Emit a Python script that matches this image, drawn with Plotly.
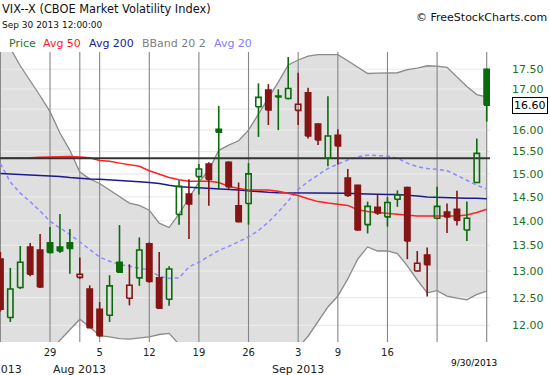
import math
import plotly.graph_objects as go

# ---------------- data ----------------
dates = ["2013-07-22", "2013-07-23", "2013-07-24", "2013-07-25", "2013-07-26",
         "2013-07-29", "2013-07-30", "2013-07-31", "2013-08-01", "2013-08-02",
         "2013-08-05", "2013-08-06", "2013-08-07", "2013-08-08", "2013-08-09",
         "2013-08-12", "2013-08-13", "2013-08-14", "2013-08-15", "2013-08-16",
         "2013-08-19", "2013-08-20", "2013-08-21", "2013-08-22", "2013-08-23",
         "2013-08-26", "2013-08-27", "2013-08-28", "2013-08-29", "2013-08-30",
         "2013-09-03", "2013-09-04", "2013-09-05", "2013-09-06",
         "2013-09-09", "2013-09-10", "2013-09-11", "2013-09-12", "2013-09-13",
         "2013-09-16", "2013-09-17", "2013-09-18", "2013-09-19", "2013-09-20",
         "2013-09-23", "2013-09-24", "2013-09-25", "2013-09-26", "2013-09-27",
         "2013-09-30"]

opens = [13.23, 12.14, 12.69, 13.47, 13.41, 13.55, 13.47, 13.55, 12.88, 12.66,
         12.29, 12.18, 13.17, 12.49, 12.87, 13.53, 12.87, 12.47, 14.13, 14.56,
         14.94, 15.22, 16.02, 15.26, 14.31, 14.36, 16.56, 16.97, 16.82, 16.76,
         16.47, 16.90, 16.14, 15.35, 15.88, 14.91, 14.75, 13.92, 14.28, 14.08,
         14.45, 14.70, 13.00, 13.31, 14.05, 14.18, 14.24, 13.81, 14.81, 17.50]
highs = [13.37, 13.06, 13.49, 13.55, 13.73, 13.87, 14.14, 13.83, 13.26, 12.73,
         12.42, 12.92, 13.91, 13.13, 13.66, 13.56, 13.37, 13.09, 14.86, 14.88,
         15.22, 15.26, 16.58, 15.28, 14.81, 15.24, 17.14, 17.12, 16.99, 17.82,
         17.41, 17.03, 16.16, 16.82, 16.02, 15.11, 14.76, 14.40, 14.56, 14.50,
         14.64, 14.72, 13.39, 13.46, 14.72, 14.36, 14.63, 14.40, 15.80, 17.52]
lows = [12.25, 12.06, 12.66, 12.90, 12.68, 13.34, 13.35, 12.95, 12.85, 11.95,
        11.80, 12.06, 12.97, 12.36, 12.72, 12.78, 12.30, 12.35, 13.92, 13.63,
        14.55, 14.31, 14.66, 14.66, 13.97, 13.92, 15.84, 16.12, 16.00, 16.74,
        16.12, 15.80, 15.65, 15.17, 15.21, 14.50, 13.80, 13.74, 14.12, 13.88,
        14.29, 13.23, 12.99, 12.52, 14.03, 13.75, 13.90, 13.59, 14.80, 16.20]
closes = [12.29, 12.66, 13.17, 12.94, 12.70, 13.36, 13.39, 13.44, 12.94, 11.96,
          11.82, 12.72, 12.98, 12.73, 13.41, 12.80, 12.31, 13.04, 14.73, 14.35,
          15.11, 14.88, 15.95, 14.72, 13.98, 15.00, 16.79, 16.48, 16.80, 17.01,
          16.62, 15.86, 15.77, 15.86, 15.63, 14.53, 13.81, 14.30, 14.16, 14.38,
          14.54, 13.59, 13.15, 13.12, 14.30, 14.08, 14.01, 14.05, 15.46, 16.60]
prev_close = 12.54  # close of the session before the first one shown

avg50 = [15.35, 15.35, 15.35, 15.36, 15.37, 15.38, 15.39, 15.39, 15.38, 15.36,
         15.30, 15.28, 15.24, 15.20, 15.17, 15.07, 15.00, 14.92, 14.87, 14.84,
         14.84, 14.84, 14.81, 14.73, 14.68, 14.65, 14.65, 14.65, 14.62, 14.57,
         14.53, 14.46, 14.40, 14.37, 14.35, 14.32, 14.23, 14.19, 14.17, 14.15,
         14.13, 14.11, 14.10, 14.10, 14.10, 14.10, 14.10, 14.12, 14.17, 14.24]
avg200 = [15.01, 15.00, 14.99, 14.98, 14.96, 14.95, 14.94, 14.92, 14.90, 14.89,
          14.88, 14.87, 14.86, 14.84, 14.83, 14.81, 14.79, 14.75, 14.72, 14.71,
          14.70, 14.69, 14.68, 14.67, 14.65, 14.63, 14.61, 14.60, 14.59, 14.59,
          14.59, 14.59, 14.59, 14.59, 14.59, 14.58, 14.57, 14.56, 14.56, 14.55,
          14.55, 14.54, 14.52, 14.50, 14.49, 14.48, 14.47, 14.47, 14.47, 14.46]
avg20 = [15.23, 14.82, 14.58, 14.40, 14.20, 13.99, 13.85, 13.72, 13.57, 13.41,
         13.27, 13.19, 13.13, 13.09, 13.05, 13.02, 12.90, 12.86, 12.87, 13.08,
         13.17, 13.28, 13.40, 13.48, 13.57, 13.67, 13.80, 13.97, 14.18, 14.41,
         14.66, 14.83, 14.98, 15.12, 15.22, 15.31, 15.38, 15.42, 15.41, 15.40,
         15.35, 15.24, 15.16, 15.12, 15.10, 15.07, 14.97, 14.86, 14.75, 14.67]
bb_upper = [18.35, 18.05, 17.59, 17.21, 16.83, 16.44, 15.93, 15.53, 15.04, 14.89,
            14.79, 14.65, 14.51, 14.37, 14.32, 14.22, 13.95, 13.86, 14.14, 14.48,
            14.82, 15.08, 15.53, 15.65, 15.75, 16.00, 16.37, 16.76, 17.17, 17.61,
            17.74, 17.84, 17.88, 17.88, 17.88, 17.72, 17.55, 17.39, 17.40, 17.40,
            17.41, 17.49, 17.53, 17.59, 17.58, 17.55, 17.31, 17.06, 16.86, 16.80]
bb_lower = [10.90, 11.05, 11.20, 11.36, 11.48, 11.55, 11.74, 11.93, 12.11, 11.97,
            11.82, 11.80, 11.77, 11.76, 11.78, 11.80, 11.84, 11.86, 11.67, 11.40,
            11.20, 11.00, 10.80, 10.70, 10.60, 10.60, 10.70, 10.90, 11.10, 11.35,
            11.61, 11.81, 12.06, 12.33, 12.53, 12.85, 13.23, 13.47, 13.39, 13.39,
            13.34, 13.10, 12.83, 12.59, 12.63, 12.53, 12.49, 12.46, 12.56, 12.62]
ref_level = 15.35

y_ticks = [12.0, 12.5, 13.0, 13.5, 14.0, 14.5, 15.0, 15.5, 16.0, 16.5, 17.0, 17.5]
week_starts = ["2013-07-22", "2013-07-29", "2013-08-05", "2013-08-12", "2013-08-19",
               "2013-08-26", "2013-09-03", "2013-09-09", "2013-09-16", "2013-09-23",
               "2013-09-30"]
week_labels = ["", "29", "5", "12", "19", "26", "3", "9", "16", "", ""]
month_starts = ["2013-08-01", "2013-09-03"]
month_labels = ["Aug 2013", "Sep 2013"]
first_month_label = "Jul 2013"

# ---------------- style ----------------
FONT = "DejaVu Sans"
GREEN = "#0b6a0b"
RED = "#851515"
LABEL_GREEN = "#1f6f1f"
BAND_FILL = "#dfdfdf"
BAND_LINE = "#8a8a8a"
PLOT_W, PLOT_T, PLOT_B = 490, 52, 342
HALF_BODY = 0.27  # half candle body width, in sessions

def px_x(p):
    return p / PLOT_W

def px_y(p):
    return (PLOT_B - p) / (PLOT_B - PLOT_T)

x = list(range(len(dates)))
pos = {d: i for i, d in enumerate(dates)}

y_lo, y_hi = 11.71, 17.95

fig = go.Figure()

# Bollinger band fill
fig.add_trace(go.Scatter(x=x, y=bb_lower, mode="lines", line=dict(width=0),
                         hoverinfo="skip", showlegend=False))
fig.add_trace(go.Scatter(x=x, y=bb_upper, mode="lines", line=dict(width=0),
                         fill="tonexty", fillcolor=BAND_FILL,
                         hoverinfo="skip", showlegend=False))

# horizontal grid lines (drawn over band fill)
gx, gy = [], []
for t in y_ticks:
    gx += [-1, len(dates) + 1, None]
    gy += [t, t, None]
fig.add_trace(go.Scatter(x=gx, y=gy, mode="lines", line=dict(color="#ebebeb", width=1.2),
                         hoverinfo="skip", showlegend=False))

# vertical grid lines (week starts and month starts)
vx, vy = [], []
for d in sorted(set(week_starts + month_starts)):
    i = pos[d]
    vx += [i, i, None]
    vy += [10.0, 20.0, None]
fig.add_trace(go.Scatter(x=vx, y=vy, mode="lines", line=dict(color="#858585", width=1.1),
                         hoverinfo="skip", showlegend=False))

# band lines
for band in (bb_upper, bb_lower):
    fig.add_trace(go.Scatter(x=x, y=band, mode="lines",
                             line=dict(color=BAND_LINE, width=1.3),
                             hoverinfo="skip", showlegend=False))

# moving averages
fig.add_trace(go.Scatter(x=x, y=avg20, mode="lines",
                         line=dict(color="#8a8aff", width=1.5, dash="4px,3px"),
                         hoverinfo="skip", showlegend=False))
fig.add_trace(go.Scatter(x=x, y=avg200, mode="lines",
                         line=dict(color="#1a1a8c", width=1.5),
                         hoverinfo="skip", showlegend=False))
fig.add_trace(go.Scatter(x=x, y=avg50, mode="lines",
                         line=dict(color="#ff2020", width=1.5),
                         hoverinfo="skip", showlegend=False))

# reference horizontal line
fig.add_trace(go.Scatter(x=[-1, len(dates) + 1], y=[ref_level, ref_level], mode="lines",
                         line=dict(color="#333333", width=2.2),
                         hoverinfo="skip", showlegend=False))

# candles: green if close above previous close, red otherwise;
# hollow if close above open, filled otherwise
prevs = [prev_close] + closes[:-1]
for up_day, col in ((True, GREEN), (False, RED)):
    for hollow in (True, False):
        wx, wy, bx, by = [], [], [], []
        for i in x:
            if (closes[i] >= prevs[i]) != up_day or (closes[i] > opens[i]) != hollow:
                continue
            top, bot = max(opens[i], closes[i]), min(opens[i], closes[i])
            wx += [i, i, None, i, i, None]
            wy += [highs[i], top, None, bot, lows[i], None]
            bx += [i - HALF_BODY, i + HALF_BODY, i + HALF_BODY, i - HALF_BODY, i - HALF_BODY, None]
            by += [bot, bot, top, top, bot, None]
        fig.add_trace(go.Scatter(x=wx, y=wy, mode="lines", line=dict(color=col, width=1.6),
                                 hoverinfo="skip", showlegend=False))
        fig.add_trace(go.Scatter(x=bx, y=by, mode="lines", line=dict(color=col, width=1.6),
                                 fill=None if hollow else "toself",
                                 fillcolor=None if hollow else col,
                                 hoverinfo="skip", showlegend=False))

# ---------------- annotations ----------------
ann = []
def txt(text, xp, yp, size, color="#111111", anchor="left", xref="paper", yref="paper", **kw):
    ann.append(dict(text=text, x=xp, y=yp, xref=xref, yref=yref, showarrow=False,
                    xanchor=anchor, yanchor="middle", borderpad=0,
                    font=dict(family=FONT, size=size, color=color), **kw))

txt("VIX--X (CBOE Market Volatility Index)", px_x(1), px_y(8.5), 11.4)
txt("Sep 30 2013 12:00:00", px_x(1), px_y(25), 9)
txt("© FreeStockCharts.com", px_x(548), px_y(17), 11, anchor="right")
legend_items = [("Price", "#1e7a1e", 8), ("Avg 50", "#ff1a1a", 42),
                ("Avg 200", "#1a1a8c", 88), ("BBand 20 2", "#808080", 141),
                ("Avg 20", "#8080ff", 213)]
for name, col, xp in legend_items:
    txt(name, px_x(xp), px_y(43.5), 11, color=col)

# month row
for d, lab in zip(month_starts, month_labels):
    txt(lab, pos[d], px_y(369), 11, color="#222222", anchor="center", xref="x")
txt(first_month_label, px_x(22.7), px_y(369), 11, color="#222222", anchor="right")
# cursor date
txt(f"{int(dates[-1][5:7])}/{int(dates[-1][8:10])}/{dates[-1][:4]}", len(dates) - 1,
    px_y(363), 9, color="#000000", anchor="right", xref="x", xshift=11)
# last price box
last = closes[-1]
ann.append(dict(text=f"{last:.2f}", x=1, y=math.log10(last), xref="paper", yref="y",
                showarrow=False, xanchor="left", yanchor="middle", xshift=22,
                bordercolor="#000000", borderwidth=1, borderpad=1, bgcolor="#ffffff",
                font=dict(family=FONT, size=11, color="#000000")))

# y tick labels hidden behind the last-price box
y_text = ["" if abs(math.log(t / last)) < 0.02 else f"{t:.2f}" for t in y_ticks]

fig.update_layout(
    width=550, height=375,
    margin=dict(l=0, r=60, t=PLOT_T, b=375 - PLOT_B, autoexpand=False),
    paper_bgcolor="white", plot_bgcolor="white",
    showlegend=False,
    annotations=ann,
    xaxis=dict(range=[-0.04, len(dates) - 0.67], showgrid=False, zeroline=False,
               tickvals=[pos[d] for d in week_starts], ticktext=week_labels,
               tickfont=dict(family=FONT, size=10, color="#222222"),
               ticks="", ticklabelstandoff=3, automargin=False, fixedrange=True),
    yaxis=dict(type="log", range=[math.log10(y_lo), math.log10(y_hi)], side="right",
               showgrid=False, zeroline=False,
               tickvals=y_ticks, ticktext=y_text,
               tickfont=dict(family=FONT, size=11, color=LABEL_GREEN),
               ticks="", ticklabelstandoff=21, automargin=False, fixedrange=True),
)

fig.write_html("out.html", config={"displayModeBar": False, "staticPlot": True},
               post_script="document.body.style.margin='0px';")
